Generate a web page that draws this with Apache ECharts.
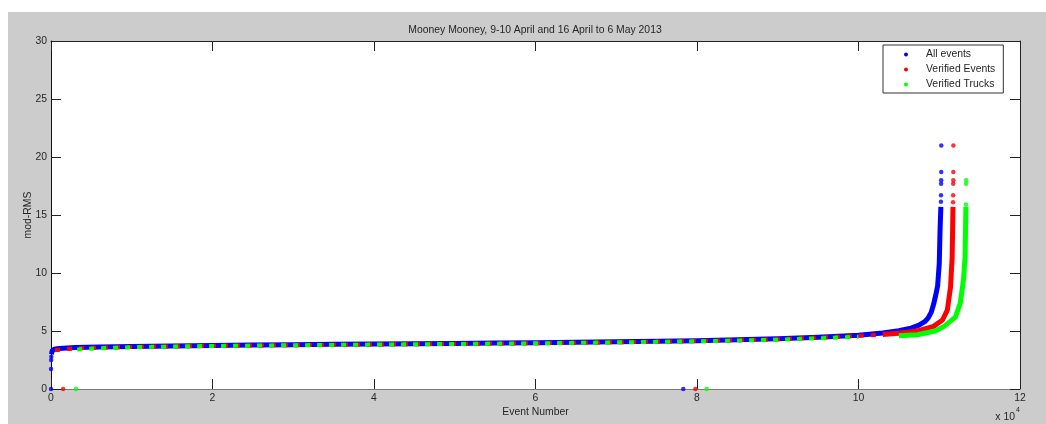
<!DOCTYPE html>
<html>
<head>
<meta charset="utf-8">
<title>Mooney Mooney mod-RMS</title>
<script src="https://cdn.jsdelivr.net/npm/echarts@6/dist/echarts.min.js"></script>
<style>
  html, body { margin: 0; padding: 0; background: #ffffff; }
  #chart { width: 1046px; height: 424px; }
</style>
</head>
<body>
<div id="chart"></div>
<script>
// Sorted mod-RMS values against event number, one curve per event class.
const allEvents = [
  [60, 3.0], [150, 3.3], [400, 3.42], [1000, 3.5], [3000, 3.57], [6000, 3.62],
  [10000, 3.66], [15000, 3.71], [20000, 3.76], [25000, 3.79], [30000, 3.82],
  [35000, 3.85], [40000, 3.88], [45000, 3.9], [50000, 3.93], [55000, 3.96],
  [60000, 3.99], [65000, 4.03], [70000, 4.07], [75000, 4.12], [80000, 4.17],
  [85000, 4.24], [90000, 4.33], [95000, 4.46], [100000, 4.64], [103000, 4.82],
  [105000, 5.02], [106500, 5.25], [107500, 5.5], [108200, 5.8], [108600, 6.1],
  [109000, 6.6], [109300, 7.3], [109600, 8.2], [109800, 8.9], [110000, 10.8],
  [110100, 13.7], [110200, 15.7]
];
const allEventsIsolated = [
  [0, 0], [0, 1.72], [20, 2.5], [40, 2.78], [78300, 0],
  [110210, 16.15], [110220, 16.7], [110230, 17.7], [110240, 18.0],
  [110245, 18.7], [110250, 21.0]
];

const verifiedEvents = [
  [500, 3.35], [1500, 3.42], [4000, 3.53], [10000, 3.63], [20000, 3.72],
  [30000, 3.78], [40000, 3.84], [50000, 3.89], [60000, 3.95], [70000, 4.03],
  [80000, 4.13], [90000, 4.29], [100000, 4.58], [103000, 4.7], [105000, 4.8],
  [107300, 5.0], [109300, 5.4], [110400, 5.95], [111000, 6.8], [111400, 8.8],
  [111600, 11.4], [111700, 15.7]
];
const verifiedEventsIsolated = [
  [1500, 0], [79800, 0],
  [111710, 16.1], [111720, 16.7], [111730, 17.7], [111740, 18.0],
  [111745, 18.7], [111750, 21.0]
];

const verifiedTrucks = [
  [2500, 3.35], [4000, 3.45], [10000, 3.61], [20000, 3.71], [30000, 3.77],
  [40000, 3.83], [50000, 3.88], [60000, 3.94], [70000, 4.02], [80000, 4.11],
  [90000, 4.25], [100000, 4.5], [105000, 4.6], [107300, 4.68],
  [109500, 5.0], [110600, 5.4], [112000, 6.2], [112600, 7.4], [113000, 9.4],
  [113200, 11.4], [113300, 15.7]
];
const verifiedTrucksIsolated = [
  [3100, 0], [81200, 0],
  [113310, 15.9], [113320, 17.7], [113330, 18.0]
];

const xTicks = { min: 0, max: 120000, interval: 20000 };
const yTicks = { min: 0, max: 30, interval: 5 };

const names = ['All events', 'Verified Events', 'Verified Trucks'];
const colors = ['#0000ff', '#ff0000', '#00ff00'];

const FONT = 'Liberation Sans, Arial, sans-serif';
const FONT_SIZE = 10.4;
const TEXT_COLOR = '#262626';

// Where the curves split apart: the flat part is drawn interleaved, the tail solid.
const SPLIT = 102000;
const flatPart = d => d.filter(p => p[0] <= SPLIT + 1000);
const tailPart = d => d.filter(p => p[0] >= SPLIT);

function band(name, color, data, width, extra) {
  return Object.assign({
    name: name,
    type: 'line',
    data: data,
    showSymbol: false,
    symbol: 'none',
    color: color,
    lineStyle: { color: color, width: width, join: 'round', cap: 'butt' },
    emphasis: { disabled: true },
    silent: true,
    animation: false
  }, extra || {});
}

function dots(name, color, data) {
  return {
    name: name,
    type: 'scatter',
    data: data,
    symbol: 'circle',
    symbolSize: 4.5,
    color: color,
    itemStyle: { color: color },
    emphasis: { disabled: true },
    silent: true,
    animation: false
  };
}

const chart = echarts.init(document.getElementById('chart'), null, { renderer: 'canvas' });

chart.setOption({
  animation: false,
  backgroundColor: '#ffffff',
  textStyle: { fontFamily: FONT },
  graphic: [
    { type: 'rect', z: -100, silent: true,
      shape: { x: 8, y: 12, width: 1038, height: 412 },
      style: { fill: '#cccccc' } },
    { type: 'text', silent: true,
      style: { text: 'Mooney Mooney, 9-10 April and 16 April to 6 May 2013',
               x: 535, y: 30, align: 'center', verticalAlign: 'middle',
               font: FONT_SIZE + 'px ' + FONT, fill: TEXT_COLOR } },
    { type: 'text', silent: true,
      style: { text: 'x 10', x: 1015, y: 417, align: 'right', verticalAlign: 'middle',
               font: FONT_SIZE + 'px ' + FONT, fill: TEXT_COLOR } },
    { type: 'text', silent: true,
      style: { text: '4', x: 1016, y: 410, align: 'left', verticalAlign: 'middle',
               font: '7px ' + FONT, fill: TEXT_COLOR } }
  ],
  grid: {
    left: 51, right: 26, top: 41, bottom: 35,
    show: true, backgroundColor: '#ffffff', borderWidth: 0
  },
  legend: {
    orient: 'vertical',
    left: 883, top: 45,
    padding: [3, 8, 2, 21],
    itemGap: 2,
    itemWidth: 30,
    itemHeight: 4,
    icon: 'circle',
    backgroundColor: '#ffffff',
    borderColor: '#333333',
    borderWidth: 1,
    selectedMode: false,
    data: names,
    textStyle: { fontFamily: FONT, fontSize: FONT_SIZE, color: TEXT_COLOR, lineHeight: 13 }
  },
  xAxis: [
    {
      type: 'value', position: 'bottom',
      min: xTicks.min, max: xTicks.max, interval: xTicks.interval,
      name: 'Event Number', nameLocation: 'middle', nameGap: 18, nameMoveOverlap: false,
      nameTextStyle: { fontFamily: FONT, fontSize: FONT_SIZE, color: TEXT_COLOR },
      axisLine: { show: true, onZero: false, lineStyle: { color: '#7a7a7a', width: 1 } },
      axisTick: { show: true, inside: true, length: 10, lineStyle: { color: '#222222' } },
      axisLabel: { fontFamily: FONT, fontSize: FONT_SIZE, color: TEXT_COLOR, margin: 4,
                   formatter: v => String(v / 10000) },
      splitLine: { show: false }
    },
    {
      type: 'value', position: 'top',
      min: xTicks.min, max: xTicks.max, interval: xTicks.interval,
      axisLine: { show: true, onZero: false, lineStyle: { color: '#222222', width: 1 } },
      axisTick: { show: true, inside: true, length: 10, lineStyle: { color: '#222222' } },
      axisLabel: { show: false },
      splitLine: { show: false }
    }
  ],
  yAxis: [
    {
      type: 'value', position: 'left',
      min: yTicks.min, max: yTicks.max, interval: yTicks.interval,
      name: 'mod-RMS', nameLocation: 'middle', nameGap: 18, nameMoveOverlap: false,
      nameTextStyle: { fontFamily: FONT, fontSize: FONT_SIZE, color: TEXT_COLOR },
      axisLine: { show: true, onZero: false, lineStyle: { color: '#111111', width: 1 } },
      axisTick: { show: true, inside: true, length: 10, lineStyle: { color: '#222222' } },
      axisLabel: { fontFamily: FONT, fontSize: FONT_SIZE, color: TEXT_COLOR, margin: 4 },
      splitLine: { show: false }
    },
    {
      type: 'value', position: 'right',
      min: yTicks.min, max: yTicks.max, interval: yTicks.interval,
      axisLine: { show: true, onZero: false, lineStyle: { color: '#222222', width: 1 } },
      axisTick: { show: true, inside: true, length: 10, lineStyle: { color: '#222222' } },
      axisLabel: { show: false },
      splitLine: { show: false }
    }
  ],
  series: [
    band(names[0], colors[0], allEvents, 5, { z: 2 }),
    dots(names[0], colors[0], allEventsIsolated),

    band(names[1], colors[1], flatPart(verifiedEvents), 4,
         { z: 3, lineStyle: { color: colors[1], width: 4, type: [5, 7], dashOffset: 0 } }),
    band(names[1], colors[1], tailPart(verifiedEvents), 5, { z: 3 }),
    dots(names[1], colors[1], verifiedEventsIsolated),

    band(names[2], colors[2], flatPart(verifiedTrucks), 4,
         { z: 4, lineStyle: { color: colors[2], width: 4, type: [5, 7], dashOffset: 6 } }),
    band(names[2], colors[2], tailPart(verifiedTrucks), 5, { z: 4 }),
    dots(names[2], colors[2], verifiedTrucksIsolated)
  ]
});
</script>
</body>
</html>
